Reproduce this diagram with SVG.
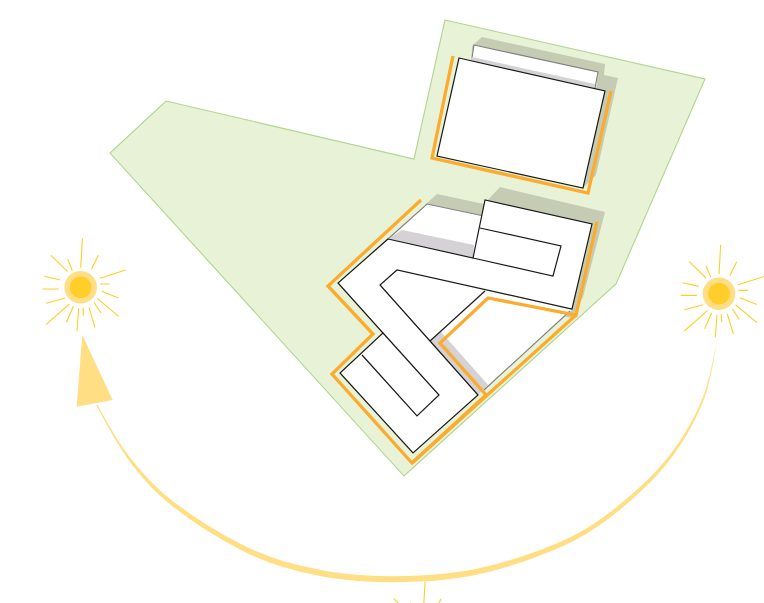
<svg xmlns="http://www.w3.org/2000/svg" width="764" height="603" viewBox="0 0 764 603">
<style>
.site{fill:#e8f2d6;stroke:#aed68e;stroke-width:1.1}
.shadow{fill:#c6ccb3;stroke:none}
.grey{fill:#d4d2d4;stroke:none}
.white{fill:#fff;stroke:none}
.gline{fill:none;stroke:#808080;stroke-width:1.1}
.bline{fill:none;stroke:#1a1a1a;stroke-width:1.2;stroke-linejoin:miter}
.orange{fill:none;stroke:#fbab2d;stroke-width:3.3;stroke-linejoin:miter}
.ray{stroke:#ffce29;stroke-width:1.1;fill:none}
.arc{fill:#ffde84;stroke:none}
</style>
<defs>
<g id="sun">
<circle cx="0" cy="0" r="16.3" fill="#ffde84"/>
<circle cx="0" cy="0" r="10.8" fill="#ffce29"/>
<path class="ray" d="M1.7,-49L0,-19.7M-29.7,-32L-13,-15.7M-13,-28L-8.3,-16.7M17.7,-32L10.7,-18M45,-17.3L19.3,-9M19.3,-3.3H29M21,4L37.7,10.7M16.7,11.3L38,29M13.3,15L20.3,25.7M8.3,20.3L14.3,40.3M2.3,20.3L2.7,28.3M-2,21L-3.7,43.7M-7.3,19L-14.3,35M-11.3,16.7L-34.7,37.3M-15.7,11L-34.7,16M-22,1.7H-38.3M-20.3,-7.3L-36.3,-11"/>
</g>
</defs>
<polygon id="site" class="site" points="445,20 705,79 616,284 404,476 110,153 166,101 414,159"/>
<g id="building-north">
<polygon class="shadow" points="482,37 605,64 604,75 618,78 596,175 583,188 470,100 472,46"/>
<polygon class="white" points="474,45 598,72 596,88 472,58"/>
<polygon class="gline" points="474,45 598,72 595,88 472,58"/>
<polygon class="grey" points="472,57 595,84 594,90 470,62"/>
<polygon class="white" points="459,58 605,91 583,188 437,156"/>
<polygon class="bline" points="459,58 605,91 583,188 437,156"/>
<polyline class="orange" points="453,56 432,158 588,193 611,91"/>
</g>
<g id="building-south">
<polygon class="shadow" points="437,194 484,204 500,187 605,212 583,297 572,318 480,300 425,205"/>
<polygon class="white" points="388,239 427,204 484,216 473,258"/>
<path class="gline" d="M388,239L427,204L484,216"/>
<polygon class="grey" points="402,230 474,245 473,258 388,239"/>
<polygon class="white" points="397,270 572,310 488,385 441,332 430,341 380,285"/>
<polygon class="grey" points="430,341 441,332 488,385 478,395"/>
<path class="gline" d="M570,311L484,390"/>
<polygon class="white" points="388,239 473,258 485,200 592,224 572,309 397,270 380,285 430,341 478,395 413,453 340,373 383,333 338,283"/>
<polygon class="bline" points="388,239 473,258 485,200 592,224 572,309 397,270 380,285 430,341 478,395 413,453 340,373 383,333 338,283"/>
<polyline class="bline" points="480,228 561,246 553,276 473,258"/>
<polyline class="bline" points="383,333 439,395 417,416 362,355"/>
<path class="bline" d="M430,341L485,291"/>
<polyline class="orange" points="421,200 328,286 373,334 332,374 412,463 486,395 440,343 488,298 576,315 597,222"/>
<path class="orange" d="M412,463L576,315"/>
</g>
<g id="sun-left"><use href="#sun" x="80.7" y="287.3"/></g>
<g id="sun-right"><use href="#sun" x="719" y="293.7"/></g>
<g id="sun-bottom"><use href="#sun" x="423.4" y="630.7"/></g>
<g id="connectors">
<path class="arc" d="M717,340Q709.3,382.8 700.7,402.7Q692,422.5 678.9,442.3Q665.7,462 648.7,478.8Q631.7,495.5 611.7,510.9Q591.6,526.2 573.7,535.5Q555.8,544.7 527.5,554.5Q499.2,564.3 474.5,569.2Q449.7,574 419.9,575.5Q390,577 366.7,575.5Q343.3,574 323.5,570.5Q303.6,567 283.8,561.3Q264,555.5 244.2,545.7Q224.3,535.8 206.3,524.5Q188.3,513.2 171.3,499.9Q154.3,486.5 137.7,466.9Q121,447.3 109.4,426Q100,410 97.7,404.7L96.3,405.3Q119,448.7 135.4,469.1Q151.7,489.5 168.7,503.2Q185.7,516.8 203.7,528.5Q221.7,540.2 241.9,550.4Q262,560.5 282.2,566.8Q302.4,573 322.6,576.5Q342.7,580 366.4,581.5Q390,583 420.2,581.5Q450.3,580 475.6,574.9Q500.8,569.7 529.5,559.5Q558.2,549.3 576.3,539.6Q594.4,529.8 614.4,514.2Q634.3,498.5 651.3,481.3Q668.3,464 681.2,443.8Q694,423.5 702.4,403.4Q710.7,383.2 717,340Z"/>
<polygon class="arc" points="82.3,335 112.7,400 76.7,406.7"/>
</g>
</svg>
